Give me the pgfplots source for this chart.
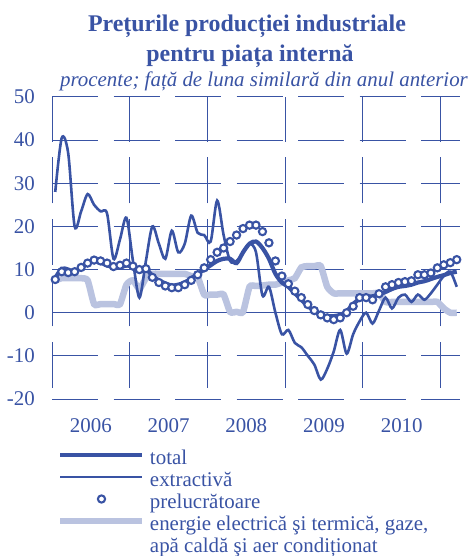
\documentclass[border=0pt]{standalone}
\usepackage{pgfplots}
\pgfplotsset{compat=1.18}
\usepackage{pgfplotstable}
\usepackage{fontspec}
\setmainfont{Liberation Serif}

\definecolor{bnrblue}{RGB}{57,83,164}
\definecolor{enline}{RGB}{186,195,224}
\newcommand{\fsz}{\fontsize{21}{22}\selectfont}

% luni: ian 2006 = 0.5 ... mar 2011 = 62.5
\pgfplotstableread{
x     total  extr   prel   energ
0.5   8      28     7.7    7.5
1.5   10.2   40.5   9.5    8
2.5   10     37     9.3    8
3.5   9.5    20     9.5    8
4.5   10.5   23.5   10.5   8
5.5   11.5   27.5   11.5   7.5
6.5   12     25     12.2   2
7.5   11.6   23.5   12     2
8.5   11     23     11.5   2
9.5   10.5   12.5   10.7   2
10.5  10.4   17     11     2
11.5  11     22     11.5   6.5
12.5  10.5   12     10.8   7.5
13.5  9.5    3.5    10     5.5
14.5  10.2   12     10.2   8
15.5  8.5    20     8.2    9
16.5  7.5    16     7      9
17.5  6.8    12.5   6.2    9
18.5  6.3    19     5.8    9
19.5  6.5    14     5.8    9
20.5  7      16     6.5    9
21.5  8      22.5   7.5    8.5
22.5  9      18.5   8.8    8.2
23.5  10     18     10.4   4.2
24.5  11     16.5   12.3   4.2
25.5  12     26     14     4.2
26.5  12.5   18     15     4.2
27.5  12.5   12     16.5   0.2
28.5  11.5   12     18     0.2
29.5  14     14     19.5   0.2
30.5  16     16     20.3   6
31.5  16.5   14     20.3   6.2
32.5  15     4      18.8   6.3
33.5  12.5   6      16.2   6.5
34.5  9      0      12     6.5
35.5  7      -5     8.5    7
36.5  6      -4     6.7    7.5
37.5  4.5    -7     5      8
38.5  3      -8     3.5    10.5
39.5  1.5    -10    1.9    10.8
40.5  0.5    -12    0.5    10.8
41.5  -0.5   -15.5  -0.5   10.8
42.5  -0.8   -13    -1.2   6
43.5  -0.8   -9     -1.6   4.5
44.5  -0.5   -4     -1.2   4.5
45.5  0.3    -9.5   0      4.5
46.5  2      -5     1.5    4.5
47.5  3.2    -2     3.5    4.5
48.5  3.7    0      3.5    4.5
49.5  3.8    -2.5   3      4.5
50.5  4.2    0.5    4.4    4.5
51.5  4.8    3.5    6      2.5
52.5  5.5    1      6.5    2.5
53.5  6      3.5    7      2.5
54.5  6.2    4.2    7.2    2.5
55.5  6.5    2.5    7.4    2.5
56.5  7      4.2    8.8    2.5
57.5  7.3    3      8.8    2.5
58.5  7.8    4.5    9.2    2.5
59.5  8.3    6.5    10.4   2.5
60.5  8.7    8.5    11.1   1
61.5  9.2    9.5    11.6   0
62.5  9.5    6      12.3   0
}\ppidata

\begin{document}
\begin{tikzpicture}
\useasboundingbox (0,0) rectangle (475bp,556bp);
\begin{axis}[
  at={(52bp,157bp)}, anchor=south west,
  scale only axis, width=408bp, height=302bp,
  xmin=0, xmax=63, ymin=-20, ymax=50,
  axis line style={draw=none},
  major tick length=0pt, minor tick length=0pt,
  xtick={6,18,30,42,54},
  xticklabels={2006,2007,2008,2009,2010},
  minor xtick={0,12,24,36,48,60},
  ytick={-20,-10,0,10,20,30,40,50},
  yticklabels={-20,-10,0,10,20,30,40,50},
  xminorgrids=true, ymajorgrids=true,
  minor grid style={draw=bnrblue, line width=1bp, dash pattern=on 46bp off 15.5bp, dash phase=50.5bp},
  major grid style={draw=bnrblue, line width=1bp, dash pattern=on 46bp off 15.5bp},
  extra y ticks={0}, extra y tick labels={},
  extra y tick style={grid=major, major grid style={draw=bnrblue, line width=1bp, solid}},
  yticklabel style={font=\fsz, text=bnrblue, inner sep=0pt, anchor=east, xshift=-17bp},
  xticklabel style={font=\fsz, text=bnrblue, inner sep=0pt, anchor=north, yshift=-19bp},
  legend image code/.code={\draw[mark repeat=2,mark phase=2,#1] plot coordinates {(0bp,0bp) (41bp,0bp) (82bp,0bp)};},
  legend cell align=left,
  legend style={at={(0.0147,-0.149)}, anchor=north west, draw=none, fill=none,
    inner sep=0pt, outer sep=0pt, column sep=5bp, row sep=0pt,
    font=\fsz, text=bnrblue,
    nodes={inner sep=0pt, text height=20bp, text depth=2bp}},
]
\addplot[forget plot, enline, line width=6.5bp, smooth, tension=0.35] table[x=x, y=energ] {\ppidata};
\addplot[forget plot, bnrblue, line width=2.6bp, smooth] table[x=x, y=extr] {\ppidata};
\addplot[forget plot, bnrblue, line width=4.2bp, smooth] table[x=x, y=total] {\ppidata};
\addplot[forget plot, only marks, mark=*, mark size=3.6bp,
  mark options={draw=bnrblue, fill=white, line width=2.1bp}] table[x=x, y=prel] {\ppidata};

\addlegendimage{bnrblue, line width=4.2bp}
\addlegendentry{total}
\addlegendimage{bnrblue, line width=2.6bp}
\addlegendentry{extractivă}
\addlegendimage{only marks, mark=*, mark size=3.6bp, mark options={draw=bnrblue, fill=white, line width=2.1bp}}
\addlegendentry{prelucrătoare}
\addlegendimage{enline, line width=5bp}
\addlegendentry{energie electrică şi termică, gaze,}
\addlegendimage{empty legend}
\addlegendentry{apă caldă şi aer condiționat}
\end{axis}

\node[anchor=base, text=bnrblue, font=\fontsize{24}{29}\selectfont\bfseries] at (247bp,524bp) {Prețurile producției industriale};
\node[anchor=base, text=bnrblue, font=\fontsize{24}{29}\selectfont\bfseries] at (250bp,494bp) {pentru piața internă};
\node[anchor=base, text=bnrblue, font=\fontsize{21}{25}\selectfont\itshape] at (264bp,469bp) {procente; față de luna similară din anul anterior};
\end{tikzpicture}
\end{document}
